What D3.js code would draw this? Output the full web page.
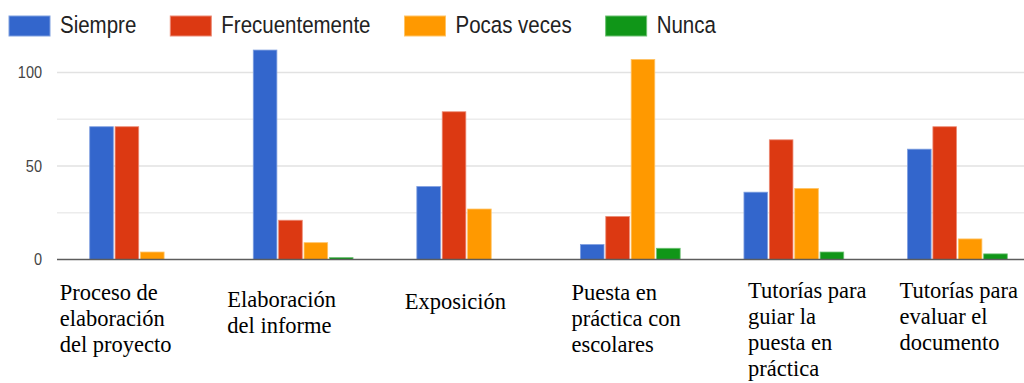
<!DOCTYPE html>
<html>
<head>
<meta charset="utf-8">
<script src="https://cdn.jsdelivr.net/npm/d3@7"></script>
<style>
  html, body { margin: 0; padding: 0; background: #fff; }
  svg { display: block; }
</style>
</head>
<body>
<svg id="chart" width="1024" height="383"></svg>
<script>
// Activities surveyed
const categories = [
  "Proceso de elaboración del proyecto",
  "Elaboración del informe",
  "Exposición",
  "Puesta en práctica con escolares",
  "Tutorías para guiar la puesta en práctica",
  "Tutorías para evaluar el documento"
];
// How each category label wraps under its group
const categoryLines = [
  ["Proceso de", "elaboración", "del proyecto"],
  ["Elaboración", "del informe"],
  ["Exposición"],
  ["Puesta en", "práctica con", "escolares"],
  ["Tutorías para", "guiar la", "puesta en", "práctica"],
  ["Tutorías para", "evaluar el", "documento"]
];

// Answer frequencies
const seriesNames = ["Siempre", "Frecuentemente", "Pocas veces", "Nunca"];
const siempre        = [71, 112, 39, 8, 36, 59];
const frecuentemente = [71, 21, 79, 23, 64, 71];
const pocasVeces     = [4, 9, 27, 107, 38, 11];
const nunca          = [0, 1, 0, 6, 4, 3];

// Axis
const yTickValues = [0, 50, 100];
const yGridValues = [25, 50, 75, 100];

const seriesValues = [siempre, frecuentemente, pocasVeces, nunca];
const colors = ["#3366cc", "#dc3912", "#ff9900", "#109618"];
const strokes = ["#7f9fe0", "#ec8a74", "#ffc466", "#6cc072"];

const svg = d3.select("#chart");
const W = 1024;
const plotLeft = 57;
const stretch = "scale(1,1.13)";

const y = d3.scaleLinear().domain([0, 100]).range([259.5, 72.5]);

const x0 = d3.scaleBand()
  .domain(categories)
  .range([plotLeft, 1040])
  .paddingInner(0.39)
  .paddingOuter(0.2);

const x1 = d3.scaleBand()
  .domain(seriesNames)
  .range([0, x0.bandwidth()])
  .paddingInner(0.07);

// Gridlines
svg.append("g")
  .selectAll("line")
  .data(yGridValues)
  .join("line")
  .attr("x1", plotLeft)
  .attr("x2", W)
  .attr("y1", d => y(d))
  .attr("y2", d => y(d))
  .attr("stroke", d => d % 50 === 0 ? "#e2e2e2" : "#ececec")
  .attr("stroke-width", 1.6);

// Bars
const rows = categories.map((c, i) => ({
  cat: c,
  vals: seriesNames.map((s, j) => ({ s, j, v: seriesValues[j][i] }))
}));

svg.append("g")
  .selectAll("g")
  .data(rows)
  .join("g")
  .attr("transform", d => `translate(${x0(d.cat)},0)`)
  .selectAll("rect")
  .data(d => d.vals.filter(e => e.v > 0))
  .join("rect")
  .attr("x", d => x1(d.s))
  .attr("width", x1.bandwidth())
  .attr("y", d => y(d.v))
  .attr("height", d => y(0) - y(d.v))
  .attr("fill", d => colors[d.j])
  .attr("stroke", d => strokes[d.j])
  .attr("stroke-width", 0.8);

// Baseline
svg.append("line")
  .attr("x1", plotLeft)
  .attr("x2", W)
  .attr("y1", y(0))
  .attr("y2", y(0))
  .attr("stroke", "#5c5c5c")
  .attr("stroke-width", 1.6);

// Y axis labels
const yAxis = d3.axisLeft(y).tickValues(yTickValues).tickSize(0).tickPadding(3).tickFormat(d3.format("d"));
const gy = svg.append("g").attr("transform", "translate(45,0)").call(yAxis);
gy.select(".domain").remove();
gy.selectAll("text")
  .attr("fill", "#444")
  .style("font-family", "'Liberation Sans', Arial, sans-serif")
  .style("font-size", "14.5px")
  .attr("transform", stretch);

// Legend
const legend = svg.append("g");
let lx = 9;
seriesNames.forEach((name, j) => {
  legend.append("rect")
    .attr("x", lx).attr("y", 16)
    .attr("width", 41).attr("height", 20)
    .attr("fill", colors[j])
    .attr("stroke", strokes[j])
    .attr("stroke-width", 1);
  const t = legend.append("text")
    .attr("transform", `translate(${lx + 51},33) ${stretch}`)
    .attr("fill", "#222")
    .style("font-family", "'Liberation Sans', Arial, sans-serif")
    .style("font-size", "20.5px")
    .text(name);
  lx += 51 + t.node().getComputedTextLength() + 34;
});

// Category labels under each group
const labelShift = [-30, -26, -12, -9, 4, -8];
const labelTop = [300, 307, 309, 300, 298, 298];
const lineStep = 26;

svg.append("g")
  .selectAll("text")
  .data(categories)
  .join("text")
  .attr("x", (d, i) => x0(d) + labelShift[i])
  .attr("y", (d, i) => labelTop[i])
  .attr("fill", "#000")
  .style("font-family", "'Liberation Serif', 'Times New Roman', serif")
  .style("font-size", "22.5px")
  .each(function(d, i) {
    const t = d3.select(this);
    const xx = x0(d) + labelShift[i];
    categoryLines[i].forEach((line, k) => {
      t.append("tspan")
        .attr("x", xx)
        .attr("y", labelTop[i] + k * lineStep)
        .text(line);
    });
  });
</script>
</body>
</html>
